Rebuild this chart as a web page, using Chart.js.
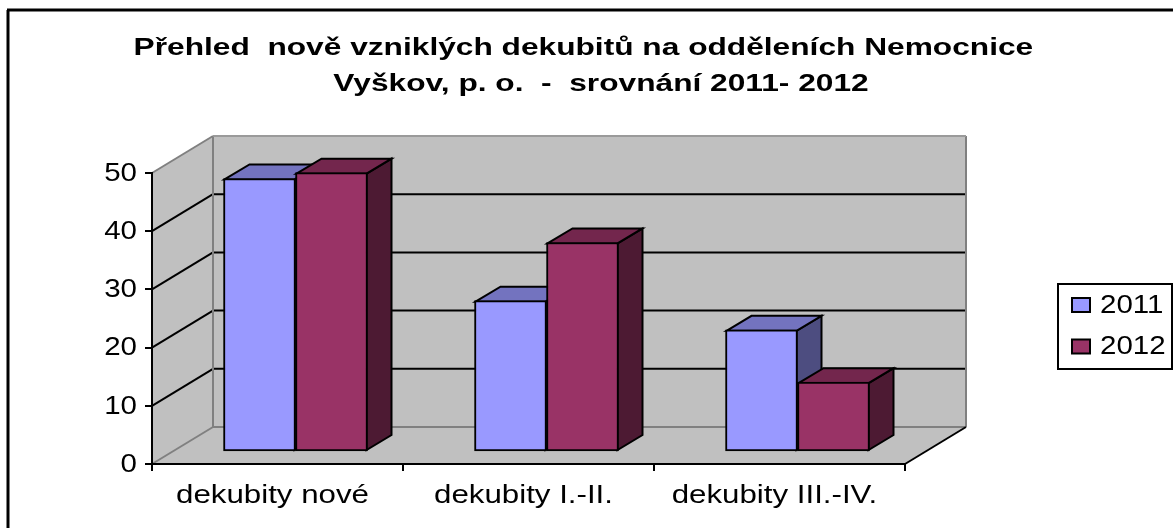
<!DOCTYPE html>
<html><head><meta charset="utf-8">
<style>html,body{margin:0;padding:0;background:#fff;overflow:hidden}canvas{display:block}</style>
<script src="https://cdn.jsdelivr.net/npm/chart.js@4"></script>
</head><body><canvas id="c" width="1173" height="528"></canvas>
<script>
const categories = ['dekubity nové', 'dekubity I.-II.', 'dekubity III.-IV.'];
const seriesNames = ['2011', '2012'];
const values2011 = [47, 26, 21];
const values2012 = [48, 36, 12];
const yTicks = [0, 10, 20, 30, 40, 50];
const titleLines = ['Přehled  nově vzniklých dekubitů na odděleních Nemocnice    ', 'Vyškov, p. o.  -  srovnání 2011- 2012'];

const FRONT = ['#9999FF', '#993366'];
const TOP = ['#7373BF', '#73264D'];
const SIDE = ['#4D4D80', '#4D1A33'];
const WALL = '#C0C0C0', EDGE = '#808080';
const WALL_DX = 61, WALL_DY = -37;   // depth of the floor
const BAR_DX = 18, BAR_DY = -12;     // bar front plane offset
const BAR_DEPTH_X = 25, BAR_DEPTH_Y = -15;
const STRETCH_BOLD = 1.32, STRETCH_LABEL = 1.25, STRETCH_DIGITS = 1.18;

function poly(ctx, pts, fill, stroke, lw) {
  ctx.beginPath();
  pts.forEach((p, i) => i ? ctx.lineTo(p[0], p[1]) : ctx.moveTo(p[0], p[1]));
  ctx.closePath();
  if (fill) { ctx.fillStyle = fill; ctx.fill(); }
  if (stroke) { ctx.strokeStyle = stroke; ctx.lineWidth = lw; ctx.lineJoin = 'miter'; ctx.stroke(); }
}
function seg(ctx, x1, y1, x2, y2, color, lw) {
  ctx.beginPath(); ctx.moveTo(x1, y1); ctx.lineTo(x2, y2);
  ctx.strokeStyle = color; ctx.lineWidth = lw; ctx.stroke();
}

const scene = {
  id: 'scene',
  start(chart) {
    const ctx = chart.ctx, orig = ctx.fillText.bind(ctx);
    ctx.fillText = function (t, x, y) {
      const s = ctx.font.indexOf('bold') >= 0 ? STRETCH_BOLD : (categories.includes(t) ? STRETCH_LABEL : STRETCH_DIGITS);
      ctx.save(); ctx.translate(x, y + 1); ctx.scale(s, 1); orig(t, 0, 0); ctx.restore();
    };
  },
  afterLayout(chart) {
    const t = chart.titleBlock;
    t.left = 0; t.right = 1202; t.width = 1202;
  },
  beforeDraw(chart) {
    const ctx = chart.ctx, xs = chart.scales.x, ys = chart.scales.y;
    const L = xs.left, R = xs.right, B = ys.getPixelForValue(0), T = ys.getPixelForValue(50);
    ctx.save();
    ctx.fillStyle = '#fff'; ctx.fillRect(0, 0, chart.width, chart.height);
    // outer frame (only top and left are in view)
    seg(ctx, 8, 528, 8, 10, '#000', 3);
    seg(ctx, 7, 10, 1173, 10, '#000', 3);
    // walls and floor
    poly(ctx, [[L + WALL_DX, T + WALL_DY], [R + WALL_DX, T + WALL_DY], [R + WALL_DX, B + WALL_DY], [L + WALL_DX, B + WALL_DY]], WALL);
    poly(ctx, [[L, T], [L + WALL_DX, T + WALL_DY], [L + WALL_DX, B + WALL_DY], [L, B]], WALL);
    poly(ctx, [[L, B], [R, B], [R + WALL_DX, B + WALL_DY], [L + WALL_DX, B + WALL_DY]], WALL);
    // gridlines on left and back walls
    yTicks.forEach(v => {
      const y = ys.getPixelForValue(v);
      if (v > 0 && v < 50) {
        seg(ctx, L, y, L + WALL_DX, y + WALL_DY, '#000', 2);
        seg(ctx, L + WALL_DX, y + WALL_DY, R + WALL_DX, y + WALL_DY, '#000', 2);
      }
    });
    // wall edges
    seg(ctx, L + WALL_DX, T + WALL_DY, L + WALL_DX, B + WALL_DY, EDGE, 2);
    seg(ctx, R + WALL_DX, T + WALL_DY, R + WALL_DX, B + WALL_DY, EDGE, 2);
    seg(ctx, L + WALL_DX, B + WALL_DY, R + WALL_DX, B + WALL_DY, EDGE, 2);
    seg(ctx, L + WALL_DX, T + WALL_DY, R + WALL_DX, T + WALL_DY, '#9a9a9a', 2);
    seg(ctx, L, T, L + WALL_DX, T + WALL_DY, EDGE, 2);
    seg(ctx, L, B, L + WALL_DX, B + WALL_DY, EDGE, 2);
    seg(ctx, R, B, R + WALL_DX, B + WALL_DY, '#000', 2);
    ctx.restore();
  },
  beforeDatasetsDraw(chart) {
    const ctx = chart.ctx;
    ctx.save();
    ctx.translate(BAR_DX, BAR_DY);
    // top and side faces in painter's order; library draws the front faces afterwards
    const n = categories.length;
    for (let i = 0; i < n; i++) {
      chart.data.datasets.forEach((ds, d) => {
        const bar = chart.getDatasetMeta(d).data[i];
        const p = bar.getProps(['x', 'y', 'base', 'width'], true);
        const l = p.x - p.width / 2 + 1, r = p.x + p.width / 2 - 1, t = p.y + 1, b = p.base - 1;
        const dx = BAR_DEPTH_X, dy = BAR_DEPTH_Y;
        poly(ctx, [[r, t], [r + dx, t + dy], [r + dx, b + dy], [r, b]], SIDE[d], '#000', 2);
        poly(ctx, [[l, t], [l + dx, t + dy], [r + dx, t + dy], [r, t]], TOP[d], '#000', 2);
      });
    }
  },
  afterDatasetsDraw(chart) {
    const ctx = chart.ctx;
    ctx.restore();
    // legend box
    ctx.save();
    const x = 1058, y = 284, w = 114, h = 85;
    ctx.fillStyle = '#fff'; ctx.fillRect(x, y, w, h);
    ctx.strokeStyle = '#000'; ctx.lineWidth = 2; ctx.strokeRect(x, y, w, h);
    ctx.font = '25px "Liberation Sans"';
    ctx.textBaseline = 'middle'; ctx.textAlign = 'left';
    seriesNames.forEach((name, i) => {
      const cy = 305 + i * 41.5;
      ctx.fillStyle = FRONT[i]; ctx.fillRect(1072, cy - 7, 18, 14);
      ctx.strokeStyle = '#000'; ctx.lineWidth = 2; ctx.strokeRect(1072, cy - 7, 18, 14);
      ctx.fillStyle = '#000';
      ctx.fillText(name, 1100, cy);
    });
    ctx.restore();
  }
};

new Chart(document.getElementById('c'), {
  type: 'bar',
  plugins: [scene],
  data: {
    labels: categories,
    datasets: [
      { label: seriesNames[0], data: values2011, backgroundColor: FRONT[0], borderColor: '#000', borderWidth: 2, borderSkipped: false, barThickness: 72, clip: false },
      { label: seriesNames[1], data: values2012, backgroundColor: FRONT[1], borderColor: '#000', borderWidth: 2, borderSkipped: false, barThickness: 72, clip: false }
    ]
  },
  options: {
    responsive: false,
    animation: false,
    devicePixelRatio: 1,
    layout: { padding: { left: 0, right: 268, top: 0, bottom: 0 } },
    plugins: {
      legend: { display: false },
      tooltip: { enabled: false },
      title: {
        display: true, text: titleLines, color: '#000',
        font: { family: '"Liberation Sans"', size: 24, weight: 'bold', lineHeight: '36px' },
        padding: { top: 29, bottom: 72 }
      }
    },
    scales: {
      x: {
        offset: true,
        afterFit(s) { s.height = 64; },
        grid: { drawOnChartArea: false, drawTicks: true, tickLength: 7, color: '#000', lineWidth: 2 },
        border: { display: true, color: '#000', width: 2 },
        ticks: { color: '#000', padding: 9, labelOffset: -5, maxRotation: 0, autoSkip: false, font: { family: '"Liberation Sans"', size: 25 } }
      },
      y: {
        min: 0, max: 50,
        afterFit(s) { s.width = 152; },
        afterBuildTicks(s) { s.ticks = yTicks.map(v => ({ value: v })); },
        grid: { drawOnChartArea: false, drawTicks: true, tickLength: 7, color: '#000', lineWidth: 2 },
        border: { display: true, color: '#000', width: 2 },
        ticks: { color: '#000', padding: 8, font: { family: '"Liberation Sans"', size: 25 } }
      }
    }
  }
});
</script></body></html>
